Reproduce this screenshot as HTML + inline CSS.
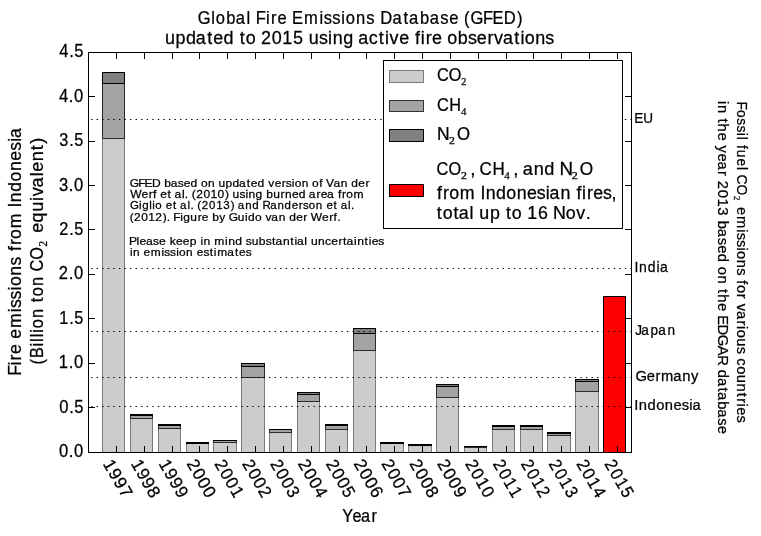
<!DOCTYPE html>
<html><head><meta charset="utf-8"><style>
html,body{margin:0;padding:0;background:#fff;}
body{width:761px;height:536px;overflow:hidden;}
svg{display:block;will-change:transform;}
text{font-family:"Liberation Sans",sans-serif;stroke:#000;stroke-width:0.25px;}
text.serif{font-family:"Liberation Serif",serif;}
</style></head><body>
<svg width="761" height="536" viewBox="0 0 761 536">
<rect width="761" height="536" fill="#fff"/>
<rect x="102.5" y="138.5" width="22" height="314" fill="#cccccc" stroke="#7a7a7a" stroke-width="1"/>
<rect x="102.5" y="83.5" width="22" height="55" fill="#a3a3a3" stroke="#2a2a2a" stroke-width="1"/>
<rect x="102.5" y="72.5" width="22" height="11" fill="#808080" stroke="#000000" stroke-width="1"/>
<rect x="130.5" y="418.5" width="22" height="34" fill="#cccccc" stroke="#7a7a7a" stroke-width="1"/>
<rect x="130.5" y="415.5" width="22" height="3" fill="#a3a3a3" stroke="#2a2a2a" stroke-width="1"/>
<rect x="130.5" y="414.5" width="22" height="1" fill="#808080" stroke="#000000" stroke-width="1"/>
<rect x="158.5" y="428.5" width="22" height="24" fill="#cccccc" stroke="#7a7a7a" stroke-width="1"/>
<rect x="158.5" y="425.5" width="22" height="3" fill="#a3a3a3" stroke="#2a2a2a" stroke-width="1"/>
<rect x="158.5" y="424.5" width="22" height="1" fill="#808080" stroke="#000000" stroke-width="1"/>
<rect x="186.5" y="443.5" width="22" height="9" fill="#cccccc" stroke="#7a7a7a" stroke-width="1"/>
<line x1="186" y1="443.5" x2="209" y2="443.5" stroke="#2a2a2a" stroke-width="1"/>
<rect x="186.5" y="442.5" width="22" height="1" fill="#808080" stroke="#000000" stroke-width="1"/>
<rect x="213.5" y="442.5" width="23" height="10" fill="#cccccc" stroke="#7a7a7a" stroke-width="1"/>
<rect x="213.5" y="440.5" width="23" height="2" fill="#a3a3a3" stroke="#2a2a2a" stroke-width="1"/>
<line x1="213" y1="440.5" x2="237" y2="440.5" stroke="#000000" stroke-width="1"/>
<rect x="241.5" y="377.5" width="23" height="75" fill="#cccccc" stroke="#7a7a7a" stroke-width="1"/>
<rect x="241.5" y="366.5" width="23" height="11" fill="#a3a3a3" stroke="#2a2a2a" stroke-width="1"/>
<rect x="241.5" y="363.5" width="23" height="3" fill="#808080" stroke="#000000" stroke-width="1"/>
<rect x="269.5" y="432.5" width="22" height="20" fill="#cccccc" stroke="#7a7a7a" stroke-width="1"/>
<rect x="269.5" y="429.5" width="22" height="3" fill="#a3a3a3" stroke="#2a2a2a" stroke-width="1"/>
<line x1="269" y1="429.5" x2="292" y2="429.5" stroke="#000000" stroke-width="1"/>
<rect x="297.5" y="401.5" width="22" height="51" fill="#cccccc" stroke="#7a7a7a" stroke-width="1"/>
<rect x="297.5" y="394.5" width="22" height="7" fill="#a3a3a3" stroke="#2a2a2a" stroke-width="1"/>
<rect x="297.5" y="392.5" width="22" height="2" fill="#808080" stroke="#000000" stroke-width="1"/>
<rect x="325.5" y="429.5" width="22" height="23" fill="#cccccc" stroke="#7a7a7a" stroke-width="1"/>
<rect x="325.5" y="425.5" width="22" height="4" fill="#a3a3a3" stroke="#2a2a2a" stroke-width="1"/>
<rect x="325.5" y="424.5" width="22" height="1" fill="#808080" stroke="#000000" stroke-width="1"/>
<rect x="353.5" y="350.5" width="22" height="102" fill="#cccccc" stroke="#7a7a7a" stroke-width="1"/>
<rect x="353.5" y="333.5" width="22" height="17" fill="#a3a3a3" stroke="#2a2a2a" stroke-width="1"/>
<rect x="353.5" y="328.5" width="22" height="5" fill="#808080" stroke="#000000" stroke-width="1"/>
<rect x="380.5" y="443.5" width="23" height="9" fill="#cccccc" stroke="#7a7a7a" stroke-width="1"/>
<line x1="380" y1="443.5" x2="404" y2="443.5" stroke="#2a2a2a" stroke-width="1"/>
<rect x="380.5" y="442.5" width="23" height="1" fill="#808080" stroke="#000000" stroke-width="1"/>
<rect x="408.5" y="445.5" width="23" height="7" fill="#cccccc" stroke="#7a7a7a" stroke-width="1"/>
<line x1="408" y1="445.5" x2="432" y2="445.5" stroke="#2a2a2a" stroke-width="1"/>
<rect x="408.5" y="444.5" width="23" height="1" fill="#808080" stroke="#000000" stroke-width="1"/>
<rect x="436.5" y="397.5" width="22" height="55" fill="#cccccc" stroke="#7a7a7a" stroke-width="1"/>
<rect x="436.5" y="386.5" width="22" height="11" fill="#a3a3a3" stroke="#2a2a2a" stroke-width="1"/>
<rect x="436.5" y="384.5" width="22" height="2" fill="#808080" stroke="#000000" stroke-width="1"/>
<rect x="464.5" y="447.5" width="22" height="5" fill="#cccccc" stroke="#7a7a7a" stroke-width="1"/>
<rect x="464.5" y="446.5" width="22" height="1" fill="#a3a3a3" stroke="#2a2a2a" stroke-width="1"/>
<line x1="464" y1="446.5" x2="487" y2="446.5" stroke="#000000" stroke-width="1"/>
<rect x="492.5" y="429.5" width="22" height="23" fill="#cccccc" stroke="#7a7a7a" stroke-width="1"/>
<rect x="492.5" y="426.5" width="22" height="3" fill="#a3a3a3" stroke="#2a2a2a" stroke-width="1"/>
<rect x="492.5" y="425.5" width="22" height="1" fill="#808080" stroke="#000000" stroke-width="1"/>
<rect x="520.5" y="429.5" width="22" height="23" fill="#cccccc" stroke="#7a7a7a" stroke-width="1"/>
<rect x="520.5" y="426.5" width="22" height="3" fill="#a3a3a3" stroke="#2a2a2a" stroke-width="1"/>
<rect x="520.5" y="425.5" width="22" height="1" fill="#808080" stroke="#000000" stroke-width="1"/>
<rect x="547.5" y="435.5" width="23" height="17" fill="#cccccc" stroke="#7a7a7a" stroke-width="1"/>
<rect x="547.5" y="433.5" width="23" height="2" fill="#a3a3a3" stroke="#2a2a2a" stroke-width="1"/>
<rect x="547.5" y="432.5" width="23" height="1" fill="#808080" stroke="#000000" stroke-width="1"/>
<rect x="575.5" y="391.5" width="23" height="61" fill="#cccccc" stroke="#7a7a7a" stroke-width="1"/>
<rect x="575.5" y="381.5" width="23" height="10" fill="#a3a3a3" stroke="#2a2a2a" stroke-width="1"/>
<rect x="575.5" y="379.5" width="23" height="2" fill="#808080" stroke="#000000" stroke-width="1"/>
<rect x="603.5" y="296.5" width="22" height="156" fill="#ff0000" stroke="#000" stroke-width="1"/>
<line x1="91.1" y1="119.5" x2="631" y2="119.5" stroke="#000" stroke-width="1" stroke-dasharray="1.39 4.1704"/>
<line x1="91.1" y1="268.5" x2="631" y2="268.5" stroke="#000" stroke-width="1" stroke-dasharray="1.39 4.1704"/>
<line x1="91.1" y1="331.5" x2="631" y2="331.5" stroke="#000" stroke-width="1" stroke-dasharray="1.39 4.1704"/>
<line x1="91.1" y1="377.5" x2="631" y2="377.5" stroke="#000" stroke-width="1" stroke-dasharray="1.39 4.1704"/>
<line x1="91.1" y1="406.5" x2="631" y2="406.5" stroke="#000" stroke-width="1" stroke-dasharray="1.39 4.1704"/>
<rect x="88.5" y="52.5" width="543" height="400" fill="none" stroke="#000" stroke-width="1"/>
<line x1="88" y1="407.5" x2="95" y2="407.5" stroke="#000" stroke-width="1"/>
<line x1="632" y1="407.5" x2="625" y2="407.5" stroke="#000" stroke-width="1"/>
<line x1="88" y1="363.5" x2="95" y2="363.5" stroke="#000" stroke-width="1"/>
<line x1="632" y1="363.5" x2="625" y2="363.5" stroke="#000" stroke-width="1"/>
<line x1="88" y1="318.5" x2="95" y2="318.5" stroke="#000" stroke-width="1"/>
<line x1="632" y1="318.5" x2="625" y2="318.5" stroke="#000" stroke-width="1"/>
<line x1="88" y1="274.5" x2="95" y2="274.5" stroke="#000" stroke-width="1"/>
<line x1="632" y1="274.5" x2="625" y2="274.5" stroke="#000" stroke-width="1"/>
<line x1="88" y1="229.5" x2="95" y2="229.5" stroke="#000" stroke-width="1"/>
<line x1="632" y1="229.5" x2="625" y2="229.5" stroke="#000" stroke-width="1"/>
<line x1="88" y1="185.5" x2="95" y2="185.5" stroke="#000" stroke-width="1"/>
<line x1="632" y1="185.5" x2="625" y2="185.5" stroke="#000" stroke-width="1"/>
<line x1="88" y1="141.5" x2="95" y2="141.5" stroke="#000" stroke-width="1"/>
<line x1="632" y1="141.5" x2="625" y2="141.5" stroke="#000" stroke-width="1"/>
<line x1="88" y1="96.5" x2="95" y2="96.5" stroke="#000" stroke-width="1"/>
<line x1="632" y1="96.5" x2="625" y2="96.5" stroke="#000" stroke-width="1"/>
<line x1="116.5" y1="52" x2="116.5" y2="59" stroke="#000" stroke-width="1"/>
<line x1="116.5" y1="453" x2="116.5" y2="446" stroke="#000" stroke-width="1"/>
<line x1="144.5" y1="52" x2="144.5" y2="59" stroke="#000" stroke-width="1"/>
<line x1="144.5" y1="453" x2="144.5" y2="446" stroke="#000" stroke-width="1"/>
<line x1="172.5" y1="52" x2="172.5" y2="59" stroke="#000" stroke-width="1"/>
<line x1="172.5" y1="453" x2="172.5" y2="446" stroke="#000" stroke-width="1"/>
<line x1="199.5" y1="52" x2="199.5" y2="59" stroke="#000" stroke-width="1"/>
<line x1="199.5" y1="453" x2="199.5" y2="446" stroke="#000" stroke-width="1"/>
<line x1="227.5" y1="52" x2="227.5" y2="59" stroke="#000" stroke-width="1"/>
<line x1="227.5" y1="453" x2="227.5" y2="446" stroke="#000" stroke-width="1"/>
<line x1="255.5" y1="52" x2="255.5" y2="59" stroke="#000" stroke-width="1"/>
<line x1="255.5" y1="453" x2="255.5" y2="446" stroke="#000" stroke-width="1"/>
<line x1="283.5" y1="52" x2="283.5" y2="59" stroke="#000" stroke-width="1"/>
<line x1="283.5" y1="453" x2="283.5" y2="446" stroke="#000" stroke-width="1"/>
<line x1="311.5" y1="52" x2="311.5" y2="59" stroke="#000" stroke-width="1"/>
<line x1="311.5" y1="453" x2="311.5" y2="446" stroke="#000" stroke-width="1"/>
<line x1="339.5" y1="52" x2="339.5" y2="59" stroke="#000" stroke-width="1"/>
<line x1="339.5" y1="453" x2="339.5" y2="446" stroke="#000" stroke-width="1"/>
<line x1="366.5" y1="52" x2="366.5" y2="59" stroke="#000" stroke-width="1"/>
<line x1="366.5" y1="453" x2="366.5" y2="446" stroke="#000" stroke-width="1"/>
<line x1="394.5" y1="52" x2="394.5" y2="59" stroke="#000" stroke-width="1"/>
<line x1="394.5" y1="453" x2="394.5" y2="446" stroke="#000" stroke-width="1"/>
<line x1="422.5" y1="52" x2="422.5" y2="59" stroke="#000" stroke-width="1"/>
<line x1="422.5" y1="453" x2="422.5" y2="446" stroke="#000" stroke-width="1"/>
<line x1="450.5" y1="52" x2="450.5" y2="59" stroke="#000" stroke-width="1"/>
<line x1="450.5" y1="453" x2="450.5" y2="446" stroke="#000" stroke-width="1"/>
<line x1="478.5" y1="52" x2="478.5" y2="59" stroke="#000" stroke-width="1"/>
<line x1="478.5" y1="453" x2="478.5" y2="446" stroke="#000" stroke-width="1"/>
<line x1="506.5" y1="52" x2="506.5" y2="59" stroke="#000" stroke-width="1"/>
<line x1="506.5" y1="453" x2="506.5" y2="446" stroke="#000" stroke-width="1"/>
<line x1="533.5" y1="52" x2="533.5" y2="59" stroke="#000" stroke-width="1"/>
<line x1="533.5" y1="453" x2="533.5" y2="446" stroke="#000" stroke-width="1"/>
<line x1="561.5" y1="52" x2="561.5" y2="59" stroke="#000" stroke-width="1"/>
<line x1="561.5" y1="453" x2="561.5" y2="446" stroke="#000" stroke-width="1"/>
<line x1="589.5" y1="52" x2="589.5" y2="59" stroke="#000" stroke-width="1"/>
<line x1="589.5" y1="453" x2="589.5" y2="446" stroke="#000" stroke-width="1"/>
<line x1="617.5" y1="52" x2="617.5" y2="59" stroke="#000" stroke-width="1"/>
<line x1="617.5" y1="453" x2="617.5" y2="446" stroke="#000" stroke-width="1"/>
<rect x="383.5" y="60.5" width="239" height="168" fill="#fff" stroke="#000" stroke-width="1"/>
<rect x="389.5" y="70.5" width="34" height="12" fill="#cccccc" stroke="#7a7a7a" stroke-width="1"/>
<rect x="389.5" y="100.5" width="34" height="11" fill="#a3a3a3" stroke="#333333" stroke-width="1"/>
<rect x="389.5" y="129.5" width="34" height="12" fill="#808080" stroke="#000" stroke-width="1"/>
<rect x="389.5" y="184.5" width="34" height="12" fill="#ff0000" stroke="#000" stroke-width="1"/>
<g fill="#000">
<text transform="scale(0.9458,1)" x="209.18 223.32 228.18 239.16 249.35 260.73 270.36 281.19 286.57 293.31 308.71 321.36 337.68 342.32 351.42 360.74 365.60 376.54 387.21 402.05 414.91 426.73 432.50 444.14 454.34 465.50 474.91 490.70 497.40 510.74 520.76 532.62 546.58" y="24.20" font-size="17.50">GlobalFireEmissionsDatabase(GFED)</text>
<text transform="scale(1.0263,1)" x="160.71 171.09 181.23 190.77 201.90 207.75 217.71 233.61 239.37 254.38 264.85 275.10 285.44 300.93 310.91 319.71 324.18 334.35 349.03 359.35 369.05 375.04 379.58 388.97 404.43 409.90 414.77 420.88 435.88 446.01 455.90 464.55 475.02 481.33 490.00 501.13 507.12 511.38 521.49 531.40" y="44.40" font-size="17.50">updatedto2015usingactivefireobservations</text>
<text transform="scale(0.9469,1)" x="62.24 72.68 78.13" y="457.20" font-size="17.50">0.0</text>
<text transform="scale(0.9469,1)" x="62.58 73.02 78.43" y="412.77" font-size="17.50">0.5</text>
<text transform="scale(0.9469,1)" x="62.19 72.68 78.13" y="368.35" font-size="17.50">1.0</text>
<text transform="scale(0.9300,1)" x="63.75 74.38 79.94" y="323.93" font-size="17.50">1.5</text>
<text transform="scale(0.9469,1)" x="62.08 72.68 78.13" y="279.50" font-size="17.50">2.0</text>
<text transform="scale(0.9300,1)" x="63.63 74.38 79.94" y="235.07" font-size="17.50">2.5</text>
<text transform="scale(0.9469,1)" x="62.25 72.68 78.13" y="190.65" font-size="17.50">3.0</text>
<text transform="scale(0.9300,1)" x="63.80 74.38 79.94" y="146.23" font-size="17.50">3.5</text>
<text transform="scale(0.9469,1)" x="62.33 72.68 78.13" y="101.80" font-size="17.50">4.0</text>
<text transform="scale(0.9446,1)" x="62.83 73.20 78.63" y="57.37" font-size="17.50">4.5</text>
<text transform="scale(0.9300,1)" x="368.09 379.03 388.24 399.36" y="521.70" font-size="17.50">Year</text>
<text transform="scale(1.0275,1)" x="126.25 134.51 140.66 147.94 159.93 166.20 173.11 178.88 185.52 195.72 202.46 212.67 219.58 226.34 232.70 240.11 244.01 250.65 261.03 267.29 274.26 278.17 284.03 286.87 293.61 303.74 310.65 317.30 324.51 331.67 341.87 348.70 355.68" y="187.00" font-size="11.67">GFEDbasedonupdatedversionofVander</text>
<text transform="scale(1.0318,1)" x="126.12 137.09 144.06 148.39 155.36 162.32 169.16 176.33 179.19 185.83 190.20 197.17 204.01 210.92 218.10 225.41 232.07 237.93 240.91 247.68 258.03 264.81 271.97 276.12 282.89 289.52 299.30 306.73 310.80 316.95 327.70 331.59 335.61 342.54" y="198.10" font-size="11.67">Werfetal.(2010)usingburnedareafrom</text>
<text transform="scale(0.9873,1)" x="131.59 140.82 143.96 151.14 154.28 157.35 167.93 175.16 182.42 189.84 192.86 199.85 204.48 211.81 218.98 226.23 233.68 240.92 248.42 255.52 265.91 273.66 281.15 288.26 295.43 302.70 306.84 312.85 319.92 330.60 337.83 345.10 352.52 355.53" y="209.50" font-size="11.67">Giglioetal.(2013)andRandersonetal.</text>
<text transform="scale(1.0272,1)" x="126.21 130.58 137.56 144.39 151.19 158.48 162.31 168.61 175.47 178.38 185.24 192.40 196.47 206.62 213.47 222.68 231.55 238.46 241.37 248.15 258.36 264.14 271.30 281.49 288.33 295.30 302.49 313.46 320.43 324.75 328.25" y="220.70" font-size="11.67">(2012).FigurebyGuidovanderWerf.</text>
<text transform="scale(1.0367,1)" x="124.55 131.71 134.61 140.76 147.67 153.44 163.65 169.74 176.37 183.09 193.35 196.33 206.79 217.12 220.10 226.87 236.96 242.76 249.67 256.25 262.36 265.78 272.93 280.03 284.02 286.44 293.61 299.96 306.86 313.42 319.55 326.52 330.93 334.35 341.52 344.50 351.60 355.59 358.49 364.95" y="245.30" font-size="11.67">Pleasekeepinmindsubstantialuncertainties</text>
<text transform="scale(1.0189,1)" x="127.48 130.55 140.92 147.98 158.42 161.24 166.94 172.88 175.81 182.67 193.04 199.61 205.80 209.86 213.16 223.06 230.57 234.57 241.14" y="256.50" font-size="11.67">inemissionestimates</text>
<text transform="scale(0.9300,1)" x="682.12 691.57" y="123.10" font-size="14.58">EU</text>
<text transform="scale(0.9577,1)" x="662.50 667.28 676.43 685.62 689.12" y="272.10" font-size="14.58">India</text>
<text transform="scale(0.9300,1)" x="683.21 689.60 699.36 707.91 717.63" y="335.10" font-size="14.58">Japan</text>
<text transform="scale(1.0098,1)" x="629.34 640.40 649.12 654.56 666.75 675.70 684.28" y="381.10" font-size="14.58">Germany</text>
<text transform="scale(1.0091,1)" x="628.62 632.99 641.61 650.24 658.81 667.42 675.64 683.07 686.20" y="410.10" font-size="14.58">Indonesia</text>
<text transform="scale(0.9300,1)" x="469.87 482.62" y="81.40" font-size="17.50">CO</text>
<text class="serif" x="461.34" y="84.70" font-size="10.34" textLength="5.12" lengthAdjust="spacingAndGlyphs">2</text>
<text transform="scale(0.9300,1)" x="469.92 483.03" y="111.30" font-size="17.50">CH</text>
<text class="serif" x="460.98" y="115.10" font-size="10.34" textLength="5.48" lengthAdjust="spacingAndGlyphs">4</text>
<text transform="scale(0.9998,1)" x="436.99" y="139.90" font-size="17.50">N</text>
<text class="serif" x="448.97" y="144.20" font-size="10.34" textLength="5.87" lengthAdjust="spacingAndGlyphs">2</text>
<text transform="scale(0.9591,1)" x="476.41" y="139.90" font-size="17.50">O</text>
<text transform="scale(0.9300,1)" x="469.46 482.27" y="175.20" font-size="17.50">CO</text>
<text class="serif" x="461.07" y="178.80" font-size="10.34" textLength="5.87" lengthAdjust="spacingAndGlyphs">2</text>
<text transform="scale(1.0700,1)" x="439.42" y="175.20" font-size="17.50">,</text>
<text transform="scale(0.9723,1)" x="493.12 506.47" y="175.20" font-size="17.50">CH</text>
<text class="serif" x="504.18" y="178.80" font-size="10.34" textLength="5.48" lengthAdjust="spacingAndGlyphs">4</text>
<text transform="scale(1.0700,1)" x="479.70" y="175.20" font-size="17.50">,</text>
<text transform="scale(1.0351,1)" x="504.95 515.69 525.86" y="175.20" font-size="17.50">and</text>
<text transform="scale(1.0700,1)" x="522.86" y="175.20" font-size="17.50">N</text>
<text class="serif" x="571.86" y="178.80" font-size="10.34" textLength="6.00" lengthAdjust="spacingAndGlyphs">2</text>
<text transform="scale(0.9842,1)" x="588.95" y="175.20" font-size="17.50">O</text>
<text transform="scale(1.0184,1)" x="429.23 435.08 441.10 451.51 471.77 476.88 487.05 497.22 507.33 517.48 527.18 535.97 539.60 550.34 566.00 571.47 576.34 582.44 592.14 600.53" y="198.90" font-size="17.50">fromIndonesianfires,</text>
<text transform="scale(1.0195,1)" x="428.46 434.23 444.72 449.86 460.63 470.15 480.54 496.31 502.07 517.19 527.60 542.54 554.99 565.18 574.49" y="218.90" font-size="17.50">totalupto16Nov.</text>
</g>
<g transform="translate(20.9,373.6) rotate(-90)">
<text transform="scale(1.0055,1)" x="-2.23 8.18 13.16 19.40 34.76 45.35 61.02 65.24 73.80 82.71 87.11 97.40 107.47 121.86 127.82 133.98 144.62 165.16 170.41 180.75 191.11 201.40 211.74 221.60 230.51 234.27" y="0.00" font-size="17.50">FireemissionsfromIndonesia</text>
</g>
<g transform="translate(42.5,363.1) rotate(-90)">
<text transform="scale(0.9336,1)" x="-1.40 5.51 17.85 22.71 27.57 32.43 37.28 48.22 65.11 71.55 82.49 98.11 110.71" y="0.00" font-size="17.50">(BilliontonCO</text>
<text class="serif" x="116.27" y="4.30" font-size="11.67" textLength="5.88" lengthAdjust="spacingAndGlyphs">2</text>
<text transform="scale(1.0340,1)" x="126.09 136.05 146.35 156.72 161.26 169.93 180.69 185.04 195.10 205.75 212.11" y="0.00" font-size="17.50">equivalent)</text>
</g>
<g transform="translate(737.3,103.0) rotate(90)">
<text transform="scale(0.9471,1)" x="-1.68 7.36 16.11 23.69 31.46 35.51 44.44 49.43 58.66 67.55 75.54 86.04" y="0.00" font-size="14.58">FossilfuelCO</text>
<text class="serif" x="92.91" y="3.60" font-size="9.17" textLength="4.38" lengthAdjust="spacingAndGlyphs">2</text>
<text transform="scale(1.0096,1)" x="103.09 111.92 124.98 128.49 135.63 143.05 146.71 155.29 163.68 175.67 180.15 189.04 198.76 206.13 215.55 220.83 224.50 233.00 241.46 252.91 260.64 269.15 277.93 286.93 292.34 297.62 301.35 309.57" y="0.00" font-size="14.58">emissionsforvariouscountries</text>
</g>
<g transform="translate(718.0,102.1) rotate(90)">
<text transform="scale(1.0167,1)" x="-0.99 2.82 16.14 21.17 29.79 42.66 50.63 58.44 67.83 77.25 86.10 94.77 103.53 116.68 124.63 133.39 140.72 149.13 162.07 170.62 183.93 188.96 197.58 209.54 218.78 228.89 239.70 248.95 263.31 271.38 280.74 285.11 294.21 302.17 310.93 318.25" y="0.00" font-size="14.58">intheyear2013basedontheEDGARdatabase</text>
</g>
<g transform="translate(102.47,463.40) rotate(60)">
<text transform="scale(0.9828,1)" x="0.32 10.96 21.55 32.13" y="0.00" font-size="17.50">1997</text>
</g>
<g transform="translate(130.33,463.40) rotate(60)">
<text transform="scale(1.0022,1)" x="0.22 10.66 21.04 31.41" y="0.00" font-size="17.50">1998</text>
</g>
<g transform="translate(158.17,463.40) rotate(60)">
<text transform="scale(1.0025,1)" x="0.21 10.65 21.03 31.40" y="0.00" font-size="17.50">1999</text>
</g>
<g transform="translate(186.03,463.40) rotate(60)">
<text transform="scale(0.9809,1)" x="0.22 10.99 21.59 32.20" y="0.00" font-size="17.50">2000</text>
</g>
<g transform="translate(213.88,463.40) rotate(60)">
<text transform="scale(0.9618,1)" x="0.32 11.31 22.12 32.89" y="0.00" font-size="17.50">2001</text>
</g>
<g transform="translate(241.72,463.40) rotate(60)">
<text transform="scale(0.9618,1)" x="0.32 11.31 22.12 32.77" y="0.00" font-size="17.50">2002</text>
</g>
<g transform="translate(269.58,463.40) rotate(60)">
<text transform="scale(0.9618,1)" x="0.32 11.31 22.12 32.94" y="0.00" font-size="17.50">2003</text>
</g>
<g transform="translate(297.43,463.40) rotate(60)">
<text transform="scale(0.9797,1)" x="0.22 11.01 21.63 32.34" y="0.00" font-size="17.50">2004</text>
</g>
<g transform="translate(325.28,463.40) rotate(60)">
<text transform="scale(0.9618,1)" x="0.32 11.31 22.12 32.90" y="0.00" font-size="17.50">2005</text>
</g>
<g transform="translate(353.12,463.40) rotate(60)">
<text transform="scale(0.9809,1)" x="0.22 10.99 21.59 32.24" y="0.00" font-size="17.50">2006</text>
</g>
<g transform="translate(380.98,463.40) rotate(60)">
<text transform="scale(0.9720,1)" x="0.26 11.13 21.84 32.54" y="0.00" font-size="17.50">2007</text>
</g>
<g transform="translate(408.83,463.40) rotate(60)">
<text transform="scale(0.9809,1)" x="0.22 10.99 21.59 32.20" y="0.00" font-size="17.50">2008</text>
</g>
<g transform="translate(436.68,463.40) rotate(60)">
<text transform="scale(0.9809,1)" x="0.22 10.99 21.59 32.20" y="0.00" font-size="17.50">2009</text>
</g>
<g transform="translate(464.53,463.40) rotate(60)">
<text transform="scale(0.9618,1)" x="0.32 11.31 22.07 32.94" y="0.00" font-size="17.50">2010</text>
</g>
<g transform="translate(492.38,463.40) rotate(60)">
<text transform="scale(0.9375,1)" x="0.45 11.72 22.78 33.88" y="0.00" font-size="17.50">2011</text>
</g>
<g transform="translate(520.23,463.40) rotate(60)">
<text transform="scale(0.9426,1)" x="0.42 11.63 22.63 33.54" y="0.00" font-size="17.50">2012</text>
</g>
<g transform="translate(548.08,463.40) rotate(60)">
<text transform="scale(0.9424,1)" x="0.43 11.64 22.63 33.72" y="0.00" font-size="17.50">2013</text>
</g>
<g transform="translate(575.93,463.40) rotate(60)">
<text transform="scale(0.9606,1)" x="0.33 11.33 22.11 33.08" y="0.00" font-size="17.50">2014</text>
</g>
<g transform="translate(603.78,463.40) rotate(60)">
<text transform="scale(0.9375,1)" x="0.45 11.72 22.78 33.88" y="0.00" font-size="17.50">2015</text>
</g>
</svg>
</body></html>
